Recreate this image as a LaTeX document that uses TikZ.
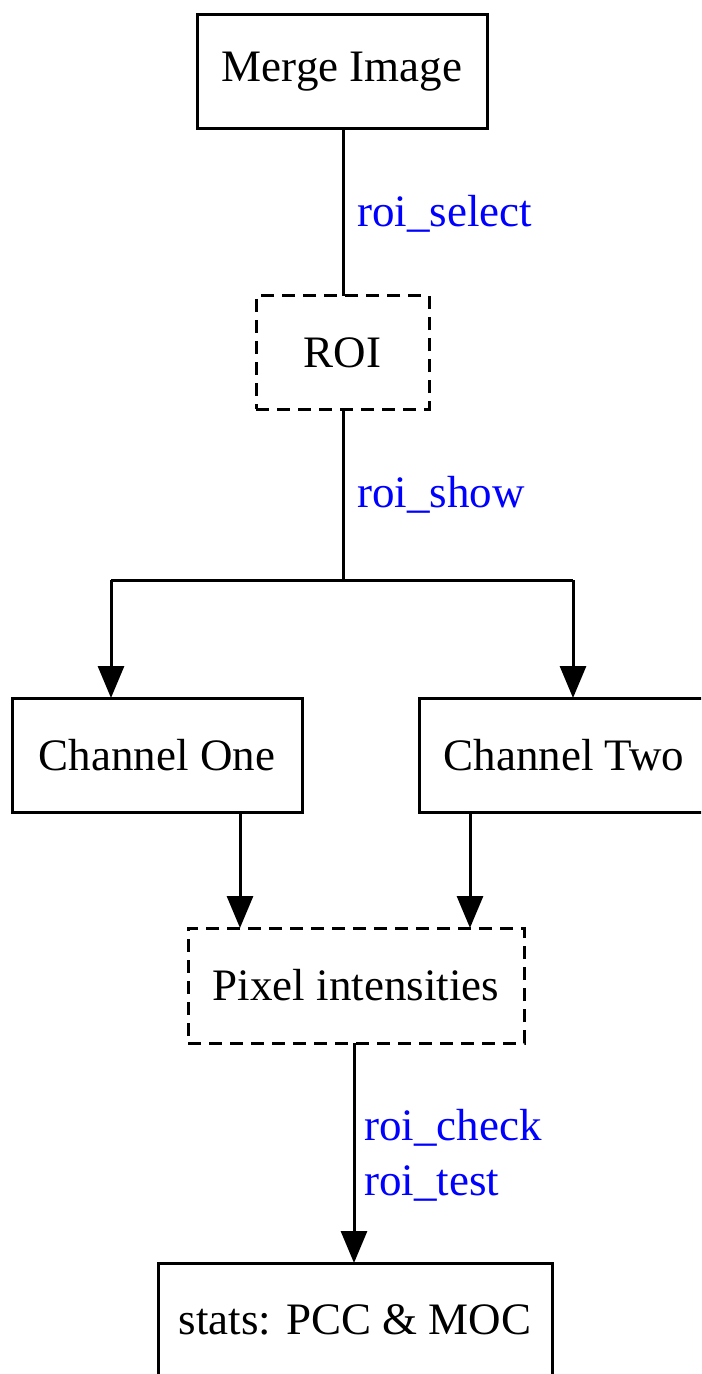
\documentclass[tikz,border=0pt]{standalone}
\usepackage{fontspec}
\setmainfont{Liberation Serif}
\usetikzlibrary{arrows.meta}
\definecolor{lblblue}{RGB}{0,0,255}
\tikzset{
  box/.style={draw, line width=1.5pt, inner sep=0pt, outer sep=0pt, font=\fontsize{22.5}{27}\selectfont},
  dbox/.style={box, dash pattern=on 6.5pt off 4pt},
  conn/.style={line width=1.5pt},
  arr/.style={conn, -{Triangle[length=16pt,width=13pt]}},
  lbl/.style={anchor=west, text=lblblue, inner sep=0pt, font=\fontsize{22.5}{27}\selectfont}
}
\begin{document}
\begin{tikzpicture}[x=0.5pt,y=-0.5pt]
\useasboundingbox (0,0) rectangle (701,1374);
\clip (0,0) rectangle (701,1374);
\node[box, minimum width=145pt, minimum height=57pt] (merge) at (342,72) {Merge Image};
\node[dbox, minimum width=86.5pt, minimum height=56.5pt] (roi) at (342.5,352.5) {ROI};
\node[box, minimum width=145pt, minimum height=57pt] (one) at (157,755) {Channel One};
\node[box, minimum width=145pt, minimum height=57pt] (two) at (564,755) {Channel Two};
\node[dbox, minimum width=168pt, minimum height=57.5pt] (pix) at (356,985.5) {Pixel intensities};
\node[box, minimum width=197pt, minimum height=57pt] (stats) at (355,1320) {stats: PCC \& MOC};
\coordinate (j) at (343,580);
\coordinate (jl) at (111,580);
\coordinate (jr) at (573,580);
\draw[conn] (merge.south -| j) -- (roi.north -| j);
\node[lbl] (ls) at (357,214) {roi\_select};
\draw[conn] (roi.south -| j) -- (j);
\node[lbl] (lsh) at (357,495) {roi\_show};
\draw[conn] (jl) -- (jr);
\draw[arr] (jl) -- (jl |- one.north);
\draw[arr] (jr) -- (jr |- two.north);
\coordinate (c1) at (240,812);
\coordinate (c2) at (470,812);
\draw[arr] (c1 |- one.south) -- (c1 |- pix.north);
\draw[arr] (c2 |- two.south) -- (c2 |- pix.north);
\coordinate (c3) at (354,1100);
\draw[arr] (c3 |- pix.south) -- (c3 |- stats.north);
\node[lbl] (lc) at (364,1128) {roi\_check};
\node[lbl] (lt) at (364,1183) {roi\_test};
\end{tikzpicture}
\end{document}
